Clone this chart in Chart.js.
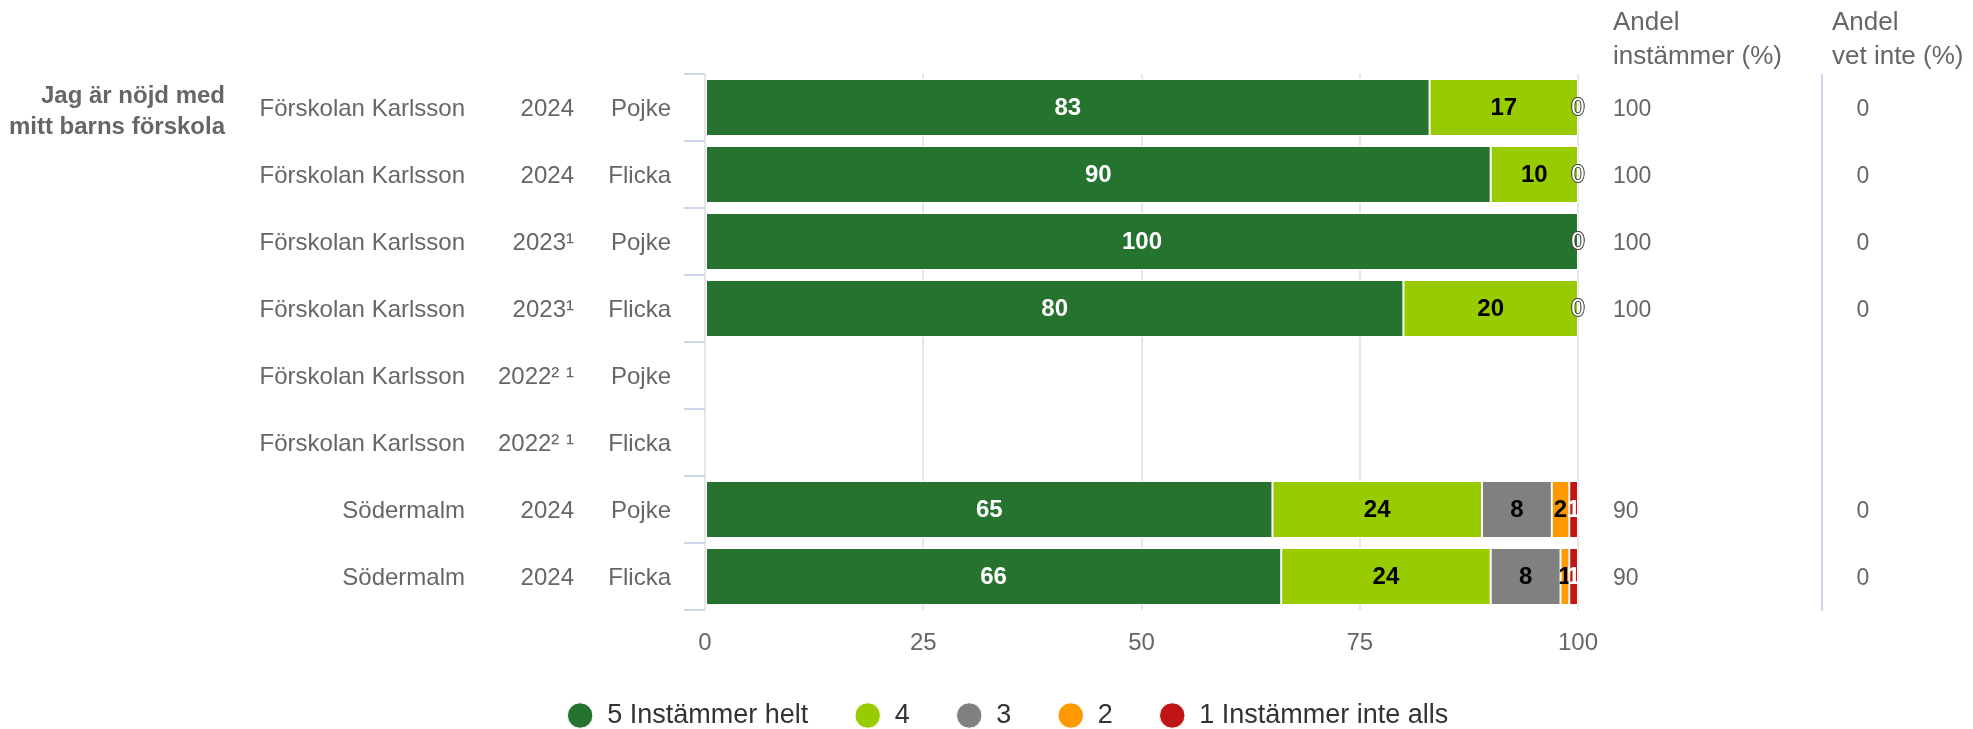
<!DOCTYPE html>
<html>
<head>
<meta charset="utf-8">
<script src="https://cdn.jsdelivr.net/npm/chart.js@4"></script>
<style>
  html, body { margin: 0; padding: 0; background: #ffffff; overflow: hidden; }
</style>
</head>
<body>
<canvas id="chart" width="1973" height="729"></canvas>
<script>
// rows (top to bottom)
const schools = ['Förskolan Karlsson', 'Förskolan Karlsson', 'Förskolan Karlsson', 'Förskolan Karlsson',
  'Förskolan Karlsson', 'Förskolan Karlsson', 'Södermalm', 'Södermalm'];
const years = ['2024', '2024', '2023¹', '2023¹', '2022² ¹', '2022² ¹', '2024', '2024'];
const genders = ['Pojke', 'Flicka', 'Pojke', 'Flicka', 'Pojke', 'Flicka', 'Pojke', 'Flicka'];
const question = ['Jag är nöjd med', 'mitt barns förskola'];

// answer shares in percent, null = no data
const helt = [83, 90, 100, 80, null, null, 65, 66];
const fyra = [17, 10, 0, 20, null, null, 24, 24];
const tre = [0, 0, 0, 0, null, null, 8, 8];
const tva = [0, 0, 0, 0, null, null, 2, 1];
const inteAlls = [0, 0, 0, 0, null, null, 1, 1];

const andelInstammer = [100, 100, 100, 100, null, null, 90, 90];
const andelVetInte = [0, 0, 0, 0, null, null, 0, 0];

const seriesNames = ['5 Instämmer helt', '4', '3', '2', '1 Instämmer inte alls'];
const seriesColors = ['#267330', '#99cc00', '#808080', '#ff9900', '#bf1515'];
const labelColors = ['#ffffff', '#000000', '#000000', '#000000', '#ffffff'];
const xTicks = [0, 25, 50, 75, 100];

Chart.defaults.font.family = '"Liberation Sans", Arial, sans-serif';
Chart.defaults.color = '#666666';

// value labels inside the bars
const barLabels = {
  id: 'barLabels',
  afterDatasetsDraw(chart) {
    const ctx = chart.ctx;
    ctx.save();
    ctx.textAlign = 'center';
    ctx.textBaseline = 'middle';
    ctx.lineJoin = 'round';
    chart.data.datasets.forEach((ds, di) => {
      chart.getDatasetMeta(di).data.forEach((bar, i) => {
        const v = ds.data[i];
        if (v === null) return;
        const x = (bar.x + bar.base) / 2;
        const y = bar.y + 1;
        if (v === 0) {
          ctx.font = '24px "Liberation Sans", Arial, sans-serif';
          ctx.lineWidth = 1.5;
          ctx.strokeStyle = '#4a4a4a';
          ctx.strokeText('0', x, y);
          ctx.fillStyle = '#ffffff';
          ctx.fillText('0', x, y);
        } else {
          ctx.font = 'bold 24px "Liberation Sans", Arial, sans-serif';
          ctx.fillStyle = labelColors[di];
          ctx.fillText(String(v), x, y);
        }
      });
    });
    ctx.restore();
  }
};

// row labels, question label and the two side columns
const sideText = {
  id: 'sideText',
  afterDraw(chart) {
    const ctx = chart.ctx;
    const y = chart.scales.y;
    const area = chart.chartArea;
    ctx.save();
    ctx.textBaseline = 'middle';
    ctx.fillStyle = '#666666';
    ctx.font = '24px "Liberation Sans", Arial, sans-serif';
    ctx.textAlign = 'right';
    schools.forEach((s, i) => {
      const cy = y.getPixelForValue(i) + 2;
      ctx.fillText(s, 465, cy);
      ctx.fillText(years[i], 574, cy);
      ctx.fillText(genders[i], 671, cy);
    });

    ctx.font = 'bold 24px "Liberation Sans", Arial, sans-serif';
    const q0 = y.getPixelForValue(0);
    ctx.fillText(question[0], 225, q0 - 11);
    ctx.fillText(question[1], 225, q0 + 20);

    ctx.textAlign = 'left';
    ctx.font = '26px "Liberation Sans", Arial, sans-serif';
    ctx.fillText('Andel', 1613, 23);
    ctx.fillText('instämmer (%)', 1613, 57);
    ctx.fillText('Andel', 1832, 23);
    ctx.fillText('vet inte (%)', 1832, 57);

    ctx.font = '23px "Liberation Sans", Arial, sans-serif';
    andelInstammer.forEach((v, i) => {
      if (v === null) return;
      ctx.fillText(String(v), 1613, y.getPixelForValue(i) + 2);
    });
    ctx.textAlign = 'center';
    andelVetInte.forEach((v, i) => {
      if (v === null) return;
      ctx.fillText(String(v), 1863, y.getPixelForValue(i) + 2);
    });

    ctx.strokeStyle = '#ccd6eb';
    ctx.lineWidth = 2;
    ctx.beginPath();
    ctx.moveTo(1822, area.top);
    ctx.lineTo(1822, area.bottom + 1);
    ctx.stroke();
    ctx.restore();
  }
};

const series = [helt, fyra, tre, tva, inteAlls];

new Chart(document.getElementById('chart'), {
  type: 'bar',
  data: {
    labels: schools.map((s, i) => s + ' ' + years[i] + ' ' + genders[i]),
    datasets: series.map((d, i) => ({
      label: seriesNames[i],
      data: d,
      backgroundColor: seriesColors[i],
      borderColor: '#ffffff',
      borderWidth: 1,
      borderSkipped: false,
      barPercentage: 0.85,
      categoryPercentage: 1
    }))
  },
  options: {
    indexAxis: 'y',
    responsive: false,
    maintainAspectRatio: false,
    animation: false,
    devicePixelRatio: 1,
    layout: { padding: { left: 42, right: 0, top: 74, bottom: -10 } },
    plugins: {
      tooltip: { enabled: false },
      legend: {
        position: 'bottom',
        labels: {
          usePointStyle: true,
          pointStyle: 'circle',
          boxHeight: 18,
          padding: 46,
          color: '#333333',
          font: { size: 27 }
        }
      }
    },
    scales: {
      x: {
        stacked: true,
        min: 0,
        max: 100,
        afterBuildTicks: (scale) => { scale.ticks = xTicks.map(v => ({ value: v })); },
        afterFit: (scale) => { scale.height = 46; },
        grid: { color: '#e6e6e6', lineWidth: 2, drawTicks: false },
        border: { display: false },
        ticks: { padding: 21, color: '#666666', font: { size: 24, lineHeight: 1 } }
      },
      y: {
        stacked: true,
        afterFit: (scale) => { scale.width = 663; },
        grid: { offset: true, drawOnChartArea: false, drawTicks: true, tickLength: 21, color: '#ccd6eb', lineWidth: 2 },
        border: { display: false },
        ticks: { display: false }
      },
      yR: {
        type: 'category',
        position: 'right',
        afterFit: (scale) => { scale.width = 395; },
        grid: { display: false },
        border: { display: false },
        ticks: { display: false }
      }
    }
  },
  plugins: [barLabels, sideText]
});
</script>
</body>
</html>
